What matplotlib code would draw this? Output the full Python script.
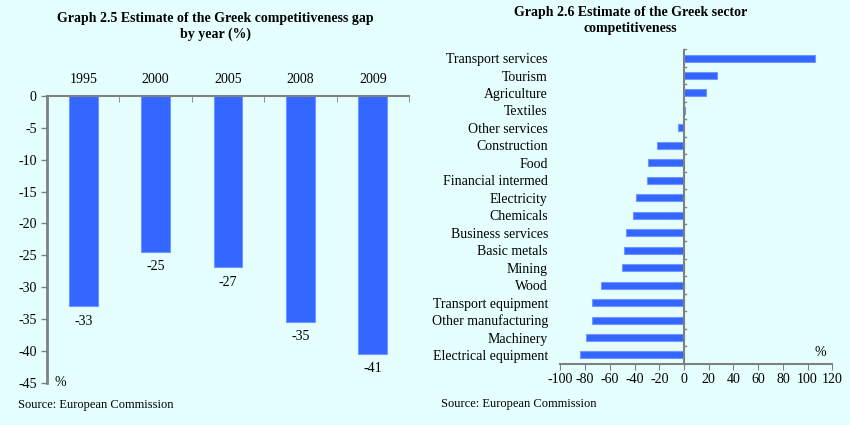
import matplotlib
matplotlib.use("Agg")
import matplotlib.pyplot as plt
import numpy as np

plt.rcParams['font.family'] = ['Liberation Serif', 'DejaVu Serif']

years = ["1995", "2000", "2005", "2008", "2009"]
gap_values = [-33.0, -24.5, -26.9, -35.4, -40.5]
gap_labels = ["-33", "-25", "-27", "-35", "-41"]

sectors = ["Transport services", "Tourism", "Agriculture", "Textiles",
           "Other services", "Construction", "Food", "Financial intermed",
           "Electricity", "Chemicals", "Business services", "Basic metals",
           "Mining", "Wood", "Transport equipment", "Other manufacturing",
           "Machinery", "Electrical equipment"]
sector_values = [105.7, 26.5, 17.8, 1.0, -4.9, -22.0, -29.5, -30.0,
                 -39.2, -41.4, -47.3, -48.2, -50.3, -66.8, -74.1, -74.1,
                 -79.2, -83.8]

bg = "#E5FFFF"
bar_c = "#3366FF"
edge_c = "#6F97FF"
axc = "#808080"
fs = 10

fig = plt.figure(figsize=(8.5, 4.25), dpi=100, facecolor=bg)

# ---- Left chart ----
ax1 = fig.add_axes([0.0553, 0.0995, 0.4259, 0.6746], facecolor=bg)
x = np.arange(len(years))
ax1.bar(x, gap_values, width=0.4, color=bar_c, edgecolor=edge_c, linewidth=0.8)
for xi, v, lab in zip(x, gap_values, gap_labels):
    ax1.text(xi, v - 1.3, lab, ha='center', va='top', fontsize=fs)
ax1.set_xlim(-0.5, len(years) - 0.5)
ax1.set_ylim(-45, 0)
ax1.set_yticks(np.arange(-45, 1, 5))
ax1.set_yticklabels([str(t) for t in range(-45, 1, 5)], fontsize=fs)
ax1.xaxis.tick_top()
ax1.set_xticks(x)
ax1.set_xticklabels(years, fontsize=fs)
ax1.set_xticks(np.arange(-0.5, len(years), 1), minor=True)
ax1.tick_params(axis='x', which='major', length=0, pad=7)
ax1.tick_params(axis='x', which='minor', direction='in', length=4, color=axc)
ax1.tick_params(axis='y', direction='out', length=4, color=axc, width=1)
for s in ['right', 'bottom']:
    ax1.spines[s].set_visible(False)
ax1.spines['left'].set_color(axc)
ax1.spines['left'].set_linewidth(2)
ax1.spines['top'].set_color(axc)
ax1.spines['top'].set_linewidth(1.5)
ax1.text(0.02, 0.0, "%", transform=ax1.transAxes, ha='left', va='center', fontsize=fs)

fig.text(0.253, 0.972, "Graph 2.5 Estimate of the Greek competitiveness gap\nby year (%)",
         ha='center', va='top', fontsize=fs, fontweight='bold', linespacing=1.3)
fig.text(0.021, 0.047, "Source: European Commission", ha='left', va='center', fontsize=9)

# ---- Right chart ----
ax2 = fig.add_axes([0.6593, 0.1442, 0.3199, 0.7398], facecolor=bg)
y = np.arange(len(sectors))
ax2.barh(y, sector_values, height=0.4, color=bar_c, edgecolor=edge_c, linewidth=0.8)
ax2.set_ylim(len(sectors) - 0.5, -0.5)
ax2.set_xlim(-100, 120)
ax2.set_xticks(np.arange(-100, 121, 20))
ax2.set_xticklabels([str(t) for t in range(-100, 121, 20)], fontsize=fs)
ax2.set_yticks(y)
ax2.set_yticklabels(sectors, fontsize=fs)
ax2.tick_params(axis='y', which='major', length=0, pad=9)
ax2.tick_params(axis='x', direction='out', length=4, color=axc, pad=3)
for s in ['right', 'top', 'left']:
    ax2.spines[s].set_visible(False)
ax2.spines['bottom'].set_color(axc)
ax2.spines['bottom'].set_linewidth(1.5)
ax2.axvline(0, color=axc, linewidth=1.5)
# category boundary ticks on the zero line
for yy in np.arange(-0.5, len(sectors), 1):
    ax2.plot([0, 2], [yy, yy], color=axc, linewidth=1, clip_on=False)
ax2.text(0.955, 0.035, "%", transform=ax2.transAxes, ha='center', va='center', fontsize=fs)

fig.text(0.742, 0.986, "Graph 2.6 Estimate of the Greek sector\ncompetitiveness",
         ha='center', va='top', fontsize=fs, fontweight='bold', linespacing=1.3)
fig.text(0.519, 0.05, "Source: European Commission", ha='left', va='center', fontsize=9)

fig.savefig("out.png", dpi=100, facecolor=bg)
